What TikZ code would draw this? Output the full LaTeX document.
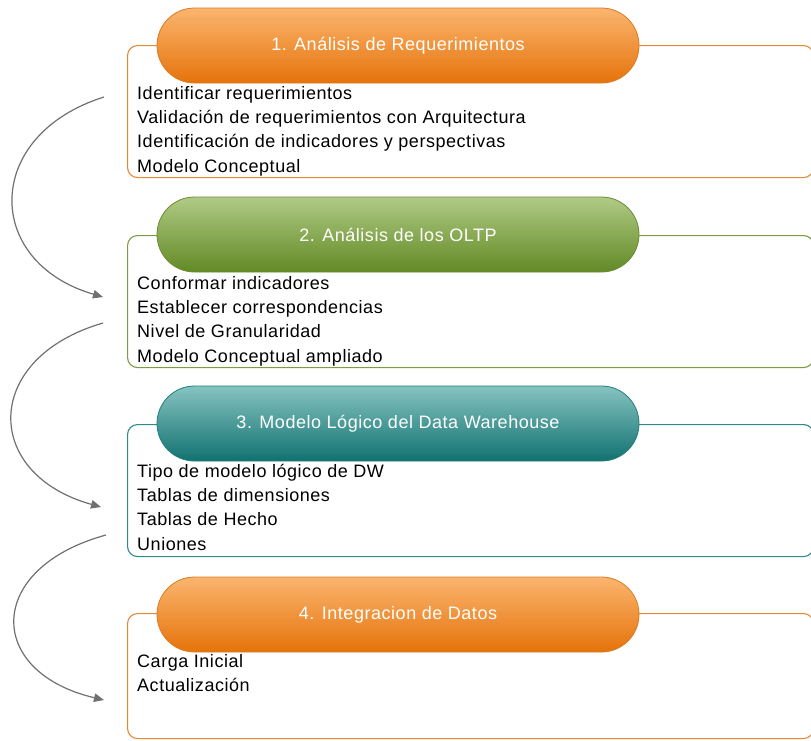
\documentclass[tikz,border=0pt]{standalone}
\usepackage{fontspec}
\setmainfont{Liberation Sans}[LetterSpace=3]
\usetikzlibrary{arrows.meta}

% phase colours: light top, dark bottom, outline
\definecolor{oraT}{HTML}{FBB56F}
\definecolor{oraB}{HTML}{E5730A}
\definecolor{oraD}{HTML}{DE7A22}
\definecolor{oraL}{HTML}{E3893A}
\definecolor{grnT}{HTML}{B0CA85}
\definecolor{grnB}{HTML}{628A25}
\definecolor{grnD}{HTML}{6A8C34}
\definecolor{grnL}{HTML}{7C9B45}
\definecolor{tealT}{HTML}{86C3C1}
\definecolor{tealB}{HTML}{107270}
\definecolor{tealD}{HTML}{237E7C}
\definecolor{tealL}{HTML}{2F8A88}
\definecolor{flowgray}{HTML}{707070}

\newcommand\txtsize{\fontsize{18}{24}\selectfont}

\tikzset{
  pill/.style={rectangle, minimum width=482pt, minimum height=75pt,
    rounded corners=37.5pt, inner sep=0pt, text=white, font=\txtsize,
    draw=#1D, line width=0.8pt, top color=#1T, bottom color=#1B},
  panel/.style={rectangle, anchor=north west, minimum width=686pt,
    rounded corners=10pt, draw=#1L, line width=1.1pt, fill=white, inner sep=0pt},
  item/.style={anchor=base west, inner sep=0pt, font=\txtsize, text=black},
  flow/.style={draw=flowgray, line width=1.2pt,
    -{Triangle[length=10pt,width=8.5pt]}},
}

\begin{document}
\begin{tikzpicture}[x=1pt, y=-1pt]
\useasboundingbox (0,0) rectangle (811,740);

% 1. requirements analysis
\node[panel=ora, minimum height=132pt] (b1) at (127,45) {};
\node[pill=ora] (p1) at (398,45.5) {1. Análisis de Requerimientos};
\node[item] (b1a) at (137,99.5)  {Identificar requerimientos};
\node[item] (b1b) at (137,123.7) {Validación de requerimientos con Arquitectura};
\node[item] (b1c) at (137,147.9) {Identificación de indicadores y perspectivas};
\node[item] (b1d) at (137,172.1) {Modelo Conceptual};

% 2. OLTP analysis
\node[panel=grn, minimum height=132pt] (b2) at (127,235) {};
\node[pill=grn] (p2) at (398,234.5) {2. Análisis de los OLTP};
\node[item] (b2a) at (137,289.5) {Conformar indicadores};
\node[item] (b2b) at (137,313.7) {Establecer correspondencias};
\node[item] (b2c) at (137,337.9) {Nivel de Granularidad};
\node[item] (b2d) at (137,362.1) {Modelo Conceptual ampliado};

% 3. logical model
\node[panel=teal, minimum height=132pt] (b3) at (127,424) {};
\node[pill=teal] (p3) at (398,423.5) {3. Modelo Lógico del Data Warehouse};
\node[item] (b3a) at (137,477.5) {Tipo de modelo lógico de DW};
\node[item] (b3b) at (137,501.7) {Tablas de dimensiones};
\node[item] (b3c) at (137,525.9) {Tablas de Hecho};
\node[item] (b3d) at (137,550.1) {Uniones};

% 4. data integration
\node[panel=ora, minimum height=125pt] (b4) at (127,613) {};
\node[pill=ora] (p4) at (398,614.5) {4. Integracion de Datos};
\node[item] (b4a) at (137,667.5) {Carga Inicial};
\node[item] (b4b) at (137,691.7) {Actualización};

% curved flow arrows between phases
\coordinate (s1) at (104,97);
\coordinate (e1) at (103,297);
\coordinate (s2) at (103,323);
\coordinate (e2) at (101,507);
\coordinate (s3) at (106,535);
\coordinate (e3) at (104,700);
\draw[flow] (s1) .. controls (-17,135) and (-17,262) .. (e1);
\draw[flow] (s2) .. controls (-18,358) and (-18,474) .. (e2);
\draw[flow] (s3) .. controls (-15,568) and (-15,672) .. (e3);
\end{tikzpicture}
\end{document}
